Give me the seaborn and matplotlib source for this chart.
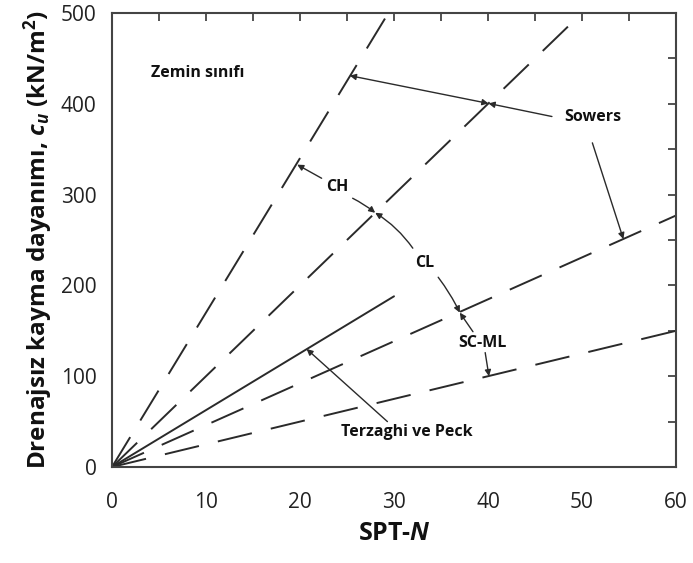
import numpy as np
import pandas as pd
import seaborn as sns
import matplotlib.pyplot as plt
from matplotlib.ticker import MultipleLocator

# --- veri ---
sowers_ch_N = [0, 29.4]
sowers_ch_cu = [0, 500]
sowers_cl_N = [0, 50]
sowers_cl_cu = [0, 500]
sowers_mid_N = [0, 60]
sowers_mid_cu = [0, 277]
sowers_scml_N = [0, 60]
sowers_scml_cu = [0, 150]
terzaghi_N = [0, 30]
terzaghi_cu = [0, 188]

x_ticks = [0, 10, 20, 30, 40, 50, 60]
y_ticks = [0, 100, 200, 300, 400, 500]

sns.set_style("white")
plt.rcParams['font.family'] = ['Open Sans', 'DejaVu Sans']
plt.rcParams['mathtext.fontset'] = 'custom'
plt.rcParams['mathtext.it'] = 'Open Sans:italic:bold'
plt.rcParams['mathtext.rm'] = 'Open Sans:bold'
plt.rcParams['mathtext.bf'] = 'Open Sans:bold'

fig = plt.figure(figsize=(6.93, 5.63), dpi=100)
ax = fig.add_axes([0.1616, 0.1705, 0.8139, 0.8064])

col = '#2a2a2a'
dash = (0, (18, 10))
for n, c in [(sowers_ch_N, sowers_ch_cu), (sowers_cl_N, sowers_cl_cu),
             (sowers_mid_N, sowers_mid_cu), (sowers_scml_N, sowers_scml_cu)]:
    df = pd.DataFrame({'N': n, 'cu': c})
    sns.lineplot(data=df, x='N', y='cu', ax=ax, color=col, lw=1.4)
    ax.lines[-1].set_linestyle(dash)

df = pd.DataFrame({'N': terzaghi_N, 'cu': terzaghi_cu})
sns.lineplot(data=df, x='N', y='cu', ax=ax, color=col, lw=1.4)

ax.set_xlim(0, 60)
ax.set_ylim(0, 500)
ax.set_xticks(x_ticks)
ax.set_yticks(y_ticks)
ax.xaxis.set_minor_locator(MultipleLocator(5))
ax.yaxis.set_minor_locator(MultipleLocator(50))
ax.tick_params(which='both', direction='in', length=6, width=1.3, color='#444',
               top=True, right=True, labelsize=15, labelcolor='#222')
ax.tick_params(axis='y', pad=11)
ax.tick_params(axis='x', pad=18)
for s in ax.spines.values():
    s.set_linewidth(1.5)
    s.set_color('#444')

ax.set_xlabel(r'SPT-$N$', fontsize=18, fontweight='bold', labelpad=6, color='#111')
ax.set_ylabel(r'Drenajsız kayma dayanımı, $c_u$ (kN/m$^2$)', fontsize=17.5,
              fontweight='bold', labelpad=4, color='#111')

tk = dict(fontsize=11.5, fontweight='bold', color='#111', ha='center', va='center')
ax.text(9.1, 434, 'Zemin sınıfı', **tk)
ax.text(24.0, 308, 'CH', **tk)
ax.text(33.3, 225, 'CL', **tk)
ax.text(39.4, 137, 'SC-ML', **tk)
ax.text(51.2, 385, 'Sowers', **tk)
ax.text(31.4, 39, 'Terzaghi ve Peck', **tk)

ap = dict(arrowstyle='-|>', color=col, lw=1.0, mutation_scale=9, shrinkA=0, shrinkB=0)
def arrow(p0, p1, rad=0.0, style='-|>'):
    props = dict(ap, arrowstyle=style, connectionstyle=f'arc3,rad={rad}')
    ax.annotate('', xy=p1, xytext=p0, arrowprops=props)

# Sowers
arrow((46.8, 386), (40.05, 400.4))
arrow((40.05, 400.4), (25.3, 431), style='<|-|>')
arrow((51.1, 357), (54.4, 251))
# CH
arrow((22.3, 318), (19.7, 333))
arrow((25.6, 296), (28.0, 280), rad=-0.05)
# CL
arrow((32.0, 241), (28.0, 280), rad=0.1)
arrow((34.7, 209), (37.0, 170), rad=-0.05)
# SC-ML
arrow((38.4, 149), (37.0, 170))
arrow((39.7, 126), (40.1, 100))
# Terzaghi ve Peck
arrow((29.3, 50), (20.7, 130))

fig.savefig('out.png', dpi=100)
